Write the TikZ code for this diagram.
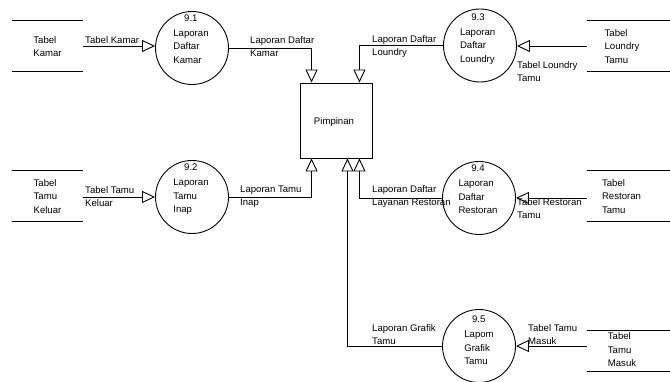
\documentclass[tikz,border=0pt]{standalone}
\usepackage{fontspec}
\setmainfont{Liberation Sans}
\usetikzlibrary{arrows.meta}
\begin{document}
\begin{tikzpicture}[x=1pt,y=-1pt,
  every node/.style={font=\fontsize{9.6}{13.5}\selectfont, inner sep=0pt},
  proc/.style={circle, draw, line width=0.9pt, minimum size=73pt},
  ptext/.style={align=left},
  store/.style={rectangle, minimum height=50pt},
  stext/.style={align=left},
  lbl/.style={align=left, anchor=west},
  flow/.style={line width=0.9pt, -{Triangle[open, length=13pt, width=12pt]}},
  sline/.style={line width=0.9pt}]
\useasboundingbox (0,0) rectangle (670,382);

% central entity
\node[draw, line width=0.9pt, minimum width=72pt, minimum height=75pt] (p) at (336,120.5) {};
\node (pt) at (334,122) {Pimpinan};

% processes
\node[proc] (c1) at (192,48) {};
\node[ptext] (c1t) at (191,39) {\makebox[35pt][c]{9.1}\\[1.5pt]Laporan\\Daftar\\Kamar};
\node[proc] (c2) at (192,197) {};
\node[ptext] (c2t) at (191,189.5) {\makebox[35pt][c]{9.2}\\[1.5pt]Laporan\\Tamu\\Inap};
\node[proc] (c3) at (480,45.5) {};
\node[ptext] (c3t) at (478,39) {\makebox[36pt][c]{9.3}\\[1.5pt]Laporan\\Daftar\\Loundry};
\node[proc] (c4) at (479,198) {};
\node[ptext] (c4t) at (478,189.5) {\makebox[39pt][c]{9.4}\\[1.5pt]Laporan\\Daftar\\Restoran};
\node[proc] (c5) at (479,346) {};
\node[ptext] (c5t) at (479,340.5) {\makebox[29pt][c]{9.5}\\[1.5pt]Lapom\\Grafik\\Tamu};

% data stores
\node[store, minimum width=71pt] (s1) at (47.5,46) {};
\node[stext] (s1t) at (47.5,46.5) {Tabel\\Kamar};
\node[store, minimum width=71pt] (s2) at (47.5,196) {};
\node[stext] (s2t) at (47.5,196.5) {Tabel\\Tamu\\Keluar};
\node[store, minimum width=83pt] (s3) at (628.5,46) {};
\node[stext] (s3t) at (622,46.5) {Tabel\\Loundry\\Tamu};
\node[store, minimum width=83pt] (s4) at (628.5,196) {};
\node[stext] (s4t) at (621.5,196.5) {Tabel\\Restoran\\Tamu};
\node[store, minimum width=83pt, minimum height=40pt] (s5) at (628.5,351) {};
\node[stext] (s5t) at (622,350) {Tabel\\Tamu\\Masuk};

\foreach \s in {s1,s2,s3,s4,s5}{
  \draw[sline] (\s.north west) -- (\s.north east);
  \draw[sline] (\s.south west) -- (\s.south east);
}

% flows from stores to processes
\draw[flow] (s1.east) -- (s1.east -| c1.west);
\draw[flow] (c2.west -| s2.east) -- (c2.west);
\draw[flow] (s3.west) -- (s3.west -| c3.east);
\draw[flow] (c4.east -| s4.west) -- (c4.east);
\draw[flow] (c5.east -| s5.west) -- (c5.east);

% flows from processes to Pimpinan
\draw[flow] (c1.east) -| ([xshift=12pt]p.north west);
\draw[flow] (c3.west) -| ([xshift=-13pt]p.north east);
\draw[flow] (c2.east) -| ([xshift=12pt]p.south west);
\draw[flow] (c4.west) -| ([xshift=-13pt]p.south east);
\draw[flow] (c5.west) -| ([xshift=-25pt]p.south east);

% flow labels
\node[lbl] (l1) at (85,40) {Tabel Kamar};
\node[lbl] (l2) at (250,46.5) {Laporan Daftar\\Kamar};
\node[lbl] (l3) at (372,46.5) {Laporan Daftar\\Loundry};
\node[lbl] (l4) at (517,71.5) {Tabel Loundry\\Tamu};
\node[lbl] (l5) at (85,196.5) {Tabel Tamu\\Keluar};
\node[lbl] (l6) at (240,196.5) {Laporan Tamu\\Inap};
\node[lbl] (l7) at (372,196.5) {Laporan Daftar\\Layanan Restoran};
\node[lbl] (l8) at (517,208.5) {Tabel Restoran\\Tamu};
\node[lbl] (l9) at (372,334.5) {Laporan Grafik\\Tamu};
\node[lbl] (l10) at (528,334.5) {Tabel Tamu\\Masuk};
\end{tikzpicture}
\end{document}
